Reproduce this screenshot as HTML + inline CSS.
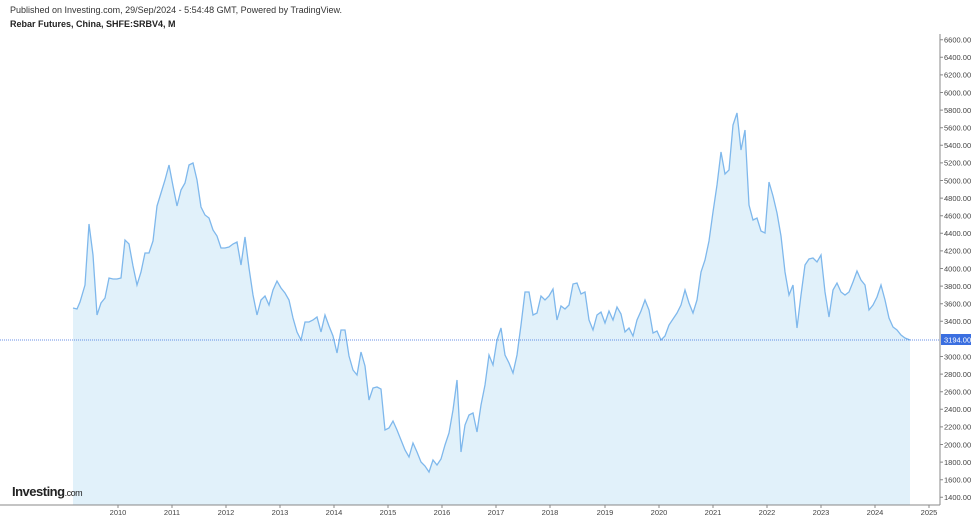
<!DOCTYPE html>
<html><head><meta charset="utf-8"><style>
body{margin:0;background:#fff;font-family:"Liberation Sans",sans-serif;}
</style></head><body>
<svg width="975" height="520" xmlns="http://www.w3.org/2000/svg" font-family="Liberation Sans, sans-serif">
<rect width="975" height="520" fill="#fff"/>
<text x="10" y="13" font-size="9" fill="#333">Published on Investing.com, 29/Sep/2024 - 5:54:48 GMT, Powered by TradingView.</text>
<text x="10" y="27" font-size="9" font-weight="bold" fill="#222">Rebar Futures, China, SHFE:SRBV4, M</text>
<g id="chart">
<polygon fill="#e1f1fa" points="73,505 73,308 77,309 80,302 85,285 89,224 93,255 97,315 101,303 105,298 109,278 113,279 117,279 121,278 125,240 129,244 133,266 137,285 141,272 145,253 149,253 153,241 157,206 161,193 165,180 169,165 173,186 177,206 181,190 185,183 189,165 193,163 197,180 201,207 205,215 209,218 213,230 217,236 221,248 225,248 229,247 233,244 237,242 241,265 245,237 249,268 253,295 257,315 261,300 265,296 269,305 273,290 277,281 281,288 285,293 289,300 293,318 297,332 301,340 305,322 309,322 313,320 317,317 321,332 325,315 329,326 333,336 337,353 341,330 345,330 349,356 353,370 357,375 361,352 365,366 369,400 373,388 377,387 381,389 385,430 389,428 393,421 397,430 401,440 405,450 409,457 413,443 417,452 421,462 425,466 429,472 433,460 437,465 441,459 445,445 449,433 453,410 457,380 461,452 465,425 469,415 473,413 477,432 481,405 485,385 489,355 493,365 497,340 501,328 505,355 509,363 513,373 517,355 521,325 525,292 529,292 533,315 537,313 541,296 545,300 549,296 553,289 557,320 561,306 565,309 569,305 573,284 577,283 581,294 585,292 589,320 593,330 597,315 601,312 605,323 609,311 613,320 617,307 621,314 625,332 629,328 633,336 637,320 641,311 645,300 649,310 653,333 657,331 661,340 665,336 669,325 673,319 677,313 681,305 685,290 689,303 693,313 697,300 701,272 705,260 709,241 713,212 717,185 721,152 725,174 729,170 733,125 737,113 741,150 745,130 749,205 753,220 757,218 761,231 765,233 769,182 773,196 777,213 781,236 785,272 789,295 793,285 797,328 801,295 805,265 809,259 813,258 817,262 821,255 825,292 829,317 833,290 837,283 841,292 845,295 849,292 853,282 857,271 861,280 865,285 869,310 873,305 877,297 881,285 885,300 889,318 893,327 897,330 901,335 905,338 910,340 910,505"/>
<polyline fill="none" stroke="#7fb8ec" stroke-width="1.3" points="73,308 77,309 80,302 85,285 89,224 93,255 97,315 101,303 105,298 109,278 113,279 117,279 121,278 125,240 129,244 133,266 137,285 141,272 145,253 149,253 153,241 157,206 161,193 165,180 169,165 173,186 177,206 181,190 185,183 189,165 193,163 197,180 201,207 205,215 209,218 213,230 217,236 221,248 225,248 229,247 233,244 237,242 241,265 245,237 249,268 253,295 257,315 261,300 265,296 269,305 273,290 277,281 281,288 285,293 289,300 293,318 297,332 301,340 305,322 309,322 313,320 317,317 321,332 325,315 329,326 333,336 337,353 341,330 345,330 349,356 353,370 357,375 361,352 365,366 369,400 373,388 377,387 381,389 385,430 389,428 393,421 397,430 401,440 405,450 409,457 413,443 417,452 421,462 425,466 429,472 433,460 437,465 441,459 445,445 449,433 453,410 457,380 461,452 465,425 469,415 473,413 477,432 481,405 485,385 489,355 493,365 497,340 501,328 505,355 509,363 513,373 517,355 521,325 525,292 529,292 533,315 537,313 541,296 545,300 549,296 553,289 557,320 561,306 565,309 569,305 573,284 577,283 581,294 585,292 589,320 593,330 597,315 601,312 605,323 609,311 613,320 617,307 621,314 625,332 629,328 633,336 637,320 641,311 645,300 649,310 653,333 657,331 661,340 665,336 669,325 673,319 677,313 681,305 685,290 689,303 693,313 697,300 701,272 705,260 709,241 713,212 717,185 721,152 725,174 729,170 733,125 737,113 741,150 745,130 749,205 753,220 757,218 761,231 765,233 769,182 773,196 777,213 781,236 785,272 789,295 793,285 797,328 801,295 805,265 809,259 813,258 817,262 821,255 825,292 829,317 833,290 837,283 841,292 845,295 849,292 853,282 857,271 861,280 865,285 869,310 873,305 877,297 881,285 885,300 889,318 893,327 897,330 901,335 905,338 910,340"/>
</g>
<line x1="0" y1="340" x2="940" y2="340" stroke="#3b6fe0" stroke-width="0.8" stroke-dasharray="1,1"/>
<line x1="940" y1="34" x2="940" y2="505" stroke="#888" stroke-width="1"/>
<line x1="0" y1="505" x2="940" y2="505" stroke="#888" stroke-width="1"/>
<g font-size="7.5" fill="#444">
<text x="944" y="42.5">6600.00</text><text x="944" y="60.1">6400.00</text><text x="944" y="77.7">6200.00</text><text x="944" y="95.3">6000.00</text><text x="944" y="112.9">5800.00</text><text x="944" y="130.5">5600.00</text><text x="944" y="148.1">5400.00</text><text x="944" y="165.7">5200.00</text><text x="944" y="183.3">5000.00</text><text x="944" y="200.9">4800.00</text><text x="944" y="218.5">4600.00</text><text x="944" y="236.1">4400.00</text><text x="944" y="253.7">4200.00</text><text x="944" y="271.3">4000.00</text><text x="944" y="288.9">3800.00</text><text x="944" y="306.5">3600.00</text><text x="944" y="324.1">3400.00</text><text x="944" y="359.3">3000.00</text><text x="944" y="376.9">2800.00</text><text x="944" y="394.5">2600.00</text><text x="944" y="412.1">2400.00</text><text x="944" y="429.7">2200.00</text><text x="944" y="447.3">2000.00</text><text x="944" y="464.9">1800.00</text><text x="944" y="482.5">1600.00</text><text x="944" y="500.1">1400.00</text>
</g>
<g stroke="#888">
<path d="M940 39.7h3M940 57.3h3M940 74.9h3M940 92.5h3M940 110.1h3M940 127.7h3M940 145.3h3M940 162.9h3M940 180.5h3M940 198.1h3M940 215.7h3M940 233.3h3M940 250.9h3M940 268.5h3M940 286.1h3M940 303.7h3M940 321.3h3M940 356.5h3M940 374.1h3M940 391.7h3M940 409.3h3M940 426.9h3M940 444.5h3M940 462.1h3M940 479.7h3M940 497.3h3"/>
<path d="M118 505v3M172 505v3M226 505v3M280 505v3M334 505v3M388 505v3M442 505v3M496 505v3M550 505v3M605 505v3M659 505v3M713 505v3M767 505v3M821 505v3M875 505v3M929 505v3"/>
</g>
<rect x="941" y="334" width="30" height="11" fill="#3b6fe0"/>
<text x="944" y="342.5" font-size="7.5" fill="#fff">3194.00</text>
<g font-size="7.5" fill="#444" text-anchor="middle">
<text x="118" y="515">2010</text><text x="172" y="515">2011</text><text x="226" y="515">2012</text><text x="280" y="515">2013</text><text x="334" y="515">2014</text><text x="388" y="515">2015</text><text x="442" y="515">2016</text><text x="496" y="515">2017</text><text x="550" y="515">2018</text><text x="605" y="515">2019</text><text x="659" y="515">2020</text><text x="713" y="515">2021</text><text x="767" y="515">2022</text><text x="821" y="515">2023</text><text x="875" y="515">2024</text><text x="929" y="515">2025</text>
</g>
<text x="12" y="496" font-size="13" font-weight="bold" fill="#222" letter-spacing="-0.5">Investing<tspan font-size="9" font-weight="normal">.com</tspan></text>
</svg>
</body></html>
